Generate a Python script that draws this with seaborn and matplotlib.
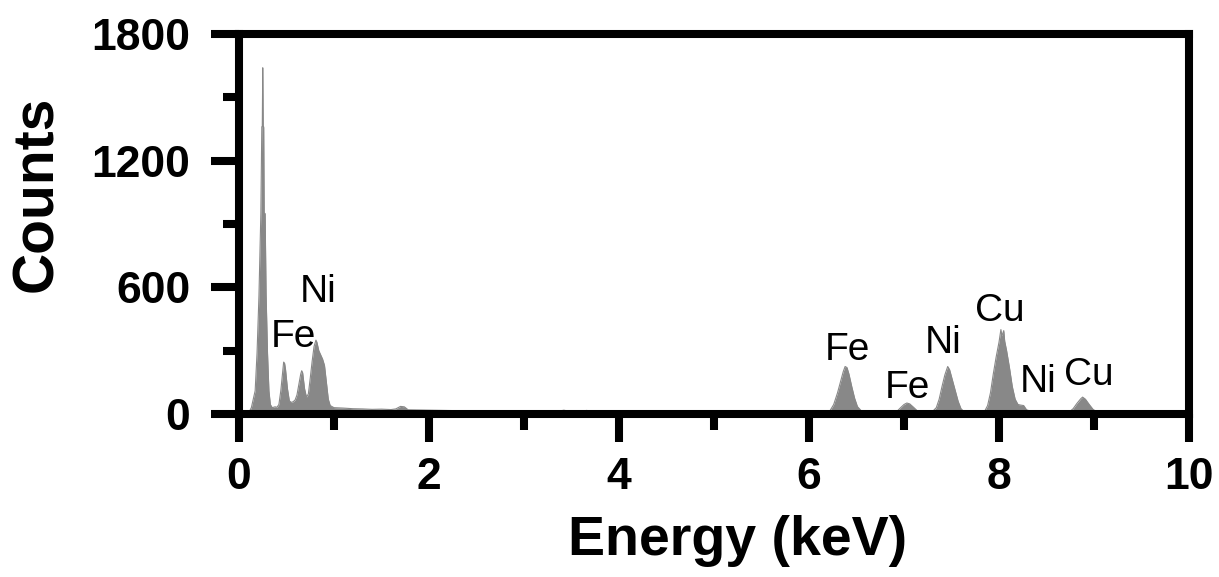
import matplotlib
matplotlib.use("Agg")
import matplotlib.pyplot as plt
import seaborn as sns
import pandas as pd

# EDS spectrum: channel energies (keV) and counts
energy_kev = [
    0.00, 0.10, 0.13, 0.15, 0.17, 0.19, 0.21, 0.23, 0.24, 0.245, 0.25, 0.255,
    0.26, 0.265, 0.275, 0.285, 0.30, 0.315, 0.33, 0.35, 0.38, 0.40,
    0.42, 0.44, 0.46, 0.47, 0.48, 0.49, 0.51, 0.53, 0.55, 0.57, 0.59, 0.61,
    0.63, 0.65, 0.66, 0.67, 0.69, 0.71, 0.73, 0.75, 0.77, 0.79, 0.81, 0.82,
    0.84, 0.86, 0.88, 0.90, 0.92, 0.94, 0.96, 1.00, 1.10, 1.20, 1.30, 1.40,
    1.50, 1.60, 1.65, 1.70, 1.74, 1.78, 1.90, 2.00, 2.20, 2.40, 2.60, 2.80,
    3.00, 3.20, 3.35, 3.42, 3.48, 3.60, 3.66, 3.72, 4.00, 4.50, 5.00, 5.50,
    6.00, 6.15, 6.22, 6.26, 6.30, 6.33, 6.36, 6.38, 6.40, 6.42, 6.45, 6.48,
    6.51, 6.55, 6.60, 6.80, 6.92, 6.96, 7.00, 7.03, 7.06, 7.10, 7.14, 7.20,
    7.30, 7.34, 7.37, 7.40, 7.43, 7.46, 7.48, 7.51, 7.54, 7.57, 7.60, 7.63,
    7.75, 7.85, 7.88, 7.91, 7.94, 7.97, 8.00, 8.02, 8.03, 8.05, 8.06, 8.08,
    8.11, 8.14, 8.17, 8.20, 8.23, 8.26, 8.29, 8.35, 8.60, 8.74, 8.78, 8.82,
    8.86, 8.88, 8.91, 8.95, 8.99, 9.03, 9.20, 9.60, 10.00,
]
counts = [
    0, 4, 30, 70, 110, 290, 560, 950, 1360, 1360, 1640, 1360,
    1360, 950, 950, 570, 290, 110, 45, 30, 34, 32,
    45, 110, 200, 246, 240, 210, 120, 62, 55, 58, 66, 90,
    140, 190, 205, 195, 120, 80, 95, 170, 250, 320, 350, 340,
    300, 280, 260, 230, 150, 70, 40, 30, 28, 25, 24, 22,
    23, 21, 24, 36, 34, 20, 19, 18, 16, 15, 14, 13,
    12, 11, 12, 18, 12, 11, 17, 11, 9, 7, 6, 5,
    5, 7, 15, 45, 100, 150, 200, 225, 220, 190, 130, 75,
    35, 15, 8, 7, 10, 28, 45, 52, 48, 32, 15, 10,
    12, 30, 70, 130, 185, 225, 210, 160, 110, 60, 25, 12,
    10, 14, 40, 100, 190, 270, 340, 400, 370, 395, 345, 300,
    220, 130, 70, 45, 42, 40, 20, 10, 8, 10, 25, 50,
    72, 80, 70, 45, 22, 10, 6, 4, 3,
]

# Element labels placed above their peaks
peak_labels = ["Fe", "Ni", "Fe", "Fe", "Ni", "Cu", "Ni", "Cu"]
label_x = [0.57, 0.83, 6.40, 7.04, 7.41, 8.01, 8.41, 8.95]
label_y = [365, 578, 303, 123, 336, 488, 152, 185]

x_ticks = [0, 2, 4, 6, 8, 10]
y_ticks = [0, 600, 1200, 1800]

spectrum = pd.DataFrame({"Energy": energy_kev, "Counts": counts})

sns.set_style("ticks")
plt.rcParams["font.family"] = ["Liberation Sans", "DejaVu Sans"]
plt.rcParams["text.color"] = "black"
plt.rcParams["xtick.color"] = "black"
plt.rcParams["ytick.color"] = "black"
plt.rcParams["axes.labelcolor"] = "black"

fig = plt.figure(figsize=(12.19, 5.77), dpi=100)
ax = fig.add_axes([239 / 1219, 1 - 414 / 577, 950 / 1219, 380 / 577])

gray = "#888888"
ax.fill_between(spectrum["Energy"], spectrum["Counts"], 0, color=gray,
                linewidth=0, zorder=1)
sns.lineplot(data=spectrum, x="Energy", y="Counts", ax=ax, color=gray,
             linewidth=0.8, zorder=2)

for text, xv, yv in zip(peak_labels, label_x, label_y):
    ax.text(xv, yv, text, ha="center", va="center", fontsize=28,
            color="black", zorder=3)

ax.set_xlim(0, 10)
ax.set_ylim(0, 1800)
ax.set_xticks(x_ticks)
ax.set_xticks([1, 3, 5, 7, 9], minor=True)
ax.set_yticks(y_ticks)
ax.set_yticks([300, 900, 1500], minor=True)
ax.set_xticklabels([str(t) for t in x_ticks])
ax.set_yticklabels([str(t) for t in y_ticks])

for side in ["left", "right", "top", "bottom"]:
    ax.spines[side].set_visible(True)
    ax.spines[side].set_linewidth(5.8)
    ax.spines[side].set_color("black")
    ax.spines[side].set_zorder(4)

ax.tick_params(axis="both", which="major", direction="out", length=20,
               width=5.8, colors="black", labelsize=32)
ax.tick_params(axis="both", which="minor", direction="out", length=11.5,
               width=5.8, colors="black")
ax.tick_params(axis="x", which="major", pad=11)
ax.tick_params(axis="y", which="major", pad=15)
for lab in ax.get_xticklabels() + ax.get_yticklabels():
    lab.set_fontweight("bold")

ax.set_xlabel("Energy (keV)", fontsize=40, fontweight="bold", color="black")
ax.set_ylabel("Counts", fontsize=41, fontweight="bold", color="black")
ax.xaxis.set_label_coords(0.5245, -0.335)
ax.yaxis.set_label_coords(-0.213, 0.579)
for lab in (ax.xaxis.label, ax.yaxis.label):
    lab.set_va("center")
    lab.set_ha("center")
    lab.set_rotation_mode("default")

fig.savefig("out.png", dpi=100)
